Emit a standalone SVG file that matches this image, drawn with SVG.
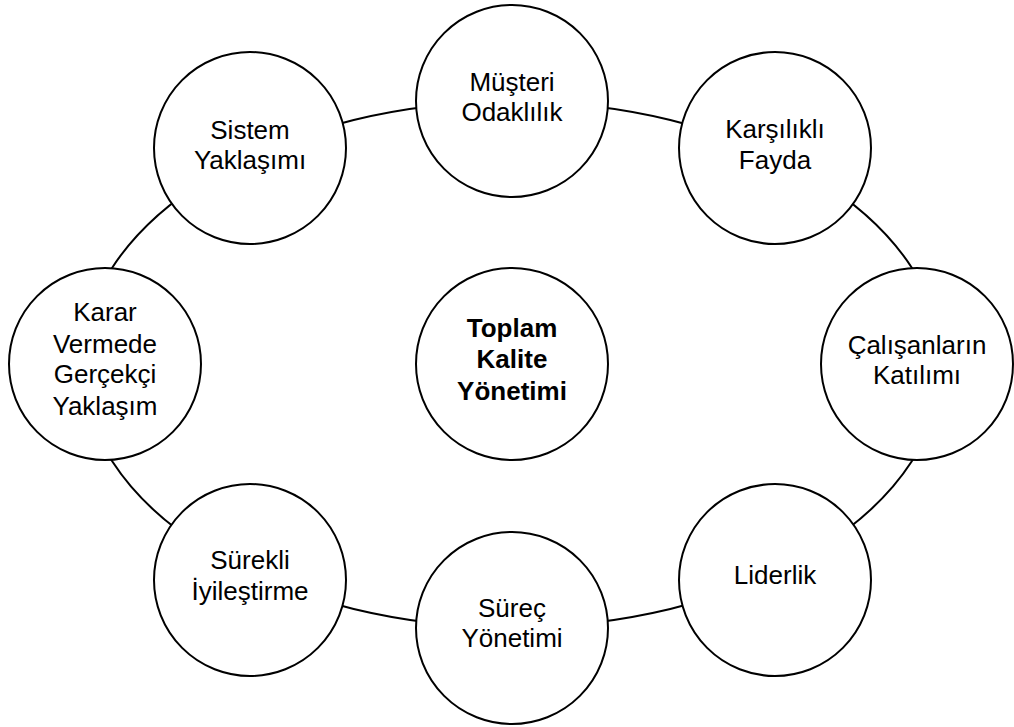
<svg xmlns="http://www.w3.org/2000/svg" width="1014" height="727" viewBox="0 0 1014 727">
  <style>
    .node { fill: #ffffff; stroke: #000000; stroke-width: 2; }
    .ring { fill: none; stroke: #000000; stroke-width: 2; }
    .label { font-family: "Liberation Sans", Arial, Helvetica, sans-serif; font-size: 26px; fill: #000000; text-anchor: middle; }
    .title { font-weight: bold; }
  </style>
  <rect width="1014" height="727" fill="#ffffff"/>

  <!-- ring that links the principles, drawn under the circles -->
  <g id="connectors">
    <ellipse class="ring" cx="512" cy="364.5" rx="430" ry="263"/>
  </g>

  <g id="node-center">
    <circle class="node" cx="512" cy="364" r="96"/>
    <text class="label title" x="512" y="337">Toplam</text>
    <text class="label title" x="512" y="368">Kalite</text>
    <text class="label title" x="512" y="400">Yönetimi</text>
  </g>

  <g id="node-musteri">
    <circle class="node" cx="512" cy="101" r="96"/>
    <text class="label" x="512" y="91">Müşteri</text>
    <text class="label" x="512" y="121">Odaklılık</text>
  </g>

  <g id="node-karsilikli">
    <circle class="node" cx="775" cy="148" r="96"/>
    <text class="label" x="775" y="138">Karşılıklı</text>
    <text class="label" x="775" y="169">Fayda</text>
  </g>

  <g id="node-calisanlar">
    <circle class="node" cx="917" cy="364" r="96"/>
    <text class="label" x="917" y="354">Çalışanların</text>
    <text class="label" x="917" y="384">Katılımı</text>
  </g>

  <g id="node-liderlik">
    <circle class="node" cx="775" cy="580" r="96"/>
    <text class="label" x="775" y="584">Liderlik</text>
  </g>

  <g id="node-surec">
    <circle class="node" cx="512" cy="628" r="96"/>
    <text class="label" x="512" y="617">Süreç</text>
    <text class="label" x="512" y="647">Yönetimi</text>
  </g>

  <g id="node-surekli">
    <circle class="node" cx="250" cy="580" r="96"/>
    <text class="label" x="250" y="569">Sürekli</text>
    <text class="label" x="250" y="600">İyileştirme</text>
  </g>

  <g id="node-karar">
    <circle class="node" cx="105" cy="364" r="96"/>
    <text class="label" x="105" y="321">Karar</text>
    <text class="label" x="105" y="353">Vermede</text>
    <text class="label" x="105" y="383">Gerçekçi</text>
    <text class="label" x="105" y="415">Yaklaşım</text>
  </g>

  <g id="node-sistem">
    <circle class="node" cx="250" cy="148" r="96"/>
    <text class="label" x="250" y="139">Sistem</text>
    <text class="label" x="250" y="169">Yaklaşımı</text>
  </g>
</svg>
